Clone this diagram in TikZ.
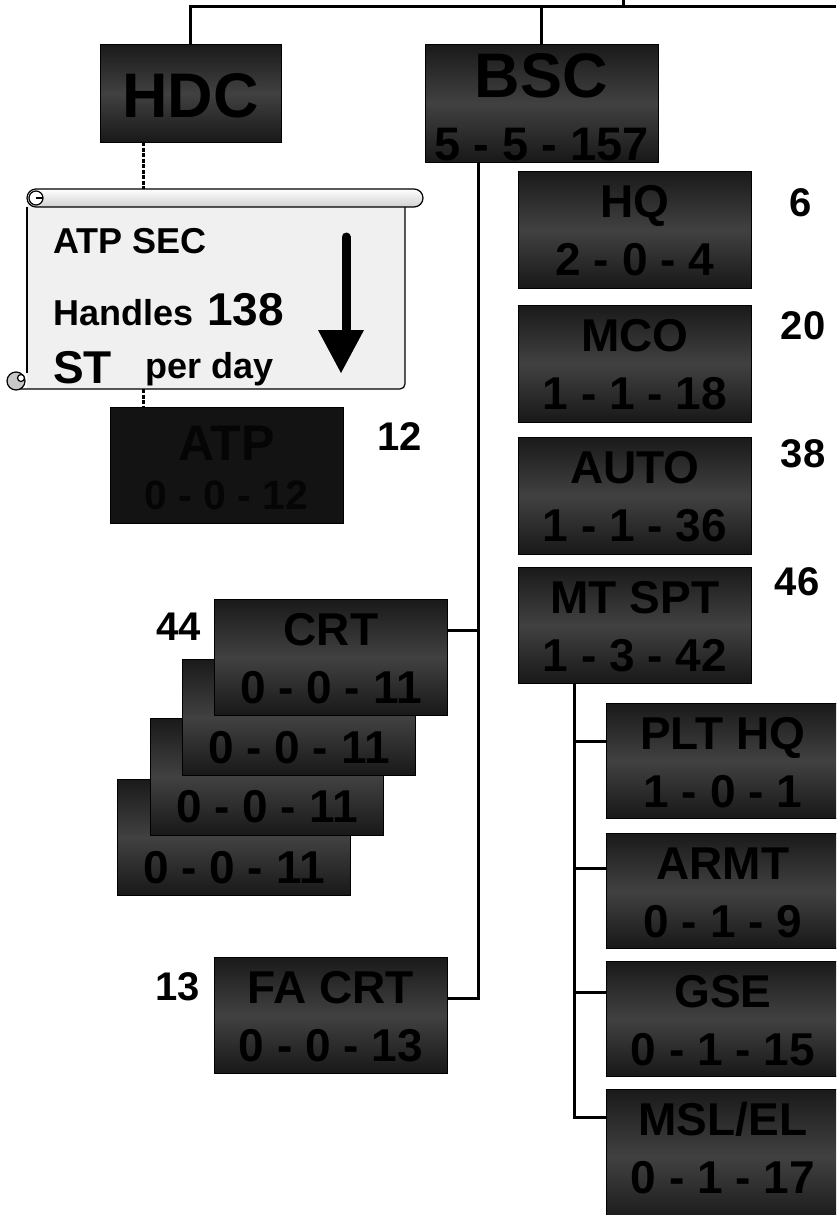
\documentclass[tikz,border=0pt]{standalone}
\usepackage{fontspec}
\setmainfont{Liberation Sans}
\usetikzlibrary{calc}
\definecolor{bxtop}{HTML}{1A1A1A}
\definecolor{bxmid}{HTML}{414141}
\definecolor{bxbot}{HTML}{181818}
\definecolor{atpfill}{HTML}{131313}
\definecolor{atptext}{HTML}{050505}
\definecolor{scrollbg}{HTML}{F0F0F0}
\definecolor{curlgray}{HTML}{C8C8C8}
\newcommand{\fs}[1]{\fontsize{#1}{#1}\selectfont\bfseries}
% name, x, y, height, line1, line2
\newcommand{\orgbox}[6]{%
  \node[ubox,minimum height=#4pt] (#1) at (#2,#3) {};
  \node[utxt,anchor=base] (#1-a) at ([yshift=-46.5pt]#1.north) {#5};
  \node[utxt,anchor=base] (#1-b) at ([yshift=-104.5pt]#1.north) {#6};
}
\begin{document}
\begin{tikzpicture}[x=1pt,y=-1pt,
  ubox/.style={rectangle,anchor=north west,inner sep=0pt,minimum width=233pt,
    draw=black,line width=0.8pt,top color=bxtop,bottom color=bxbot,middle color=bxmid},
  utxt/.style={inner sep=0pt,font=\fs{46},text=black},
  num/.style={inner sep=0pt,font=\fs{40},text=black},
  conn/.style={draw=black,line width=3pt},
  dconn/.style={draw=black,line width=3pt,dash pattern=on 4pt off 1.5pt},
  sline/.style={draw=black,line width=1.2pt},
  stxt/.style={inner sep=0pt,anchor=base west,text=black}]
\useasboundingbox (0,0) rectangle (836,1215);
\clip (0,0) rectangle (836,1215);

% ---------- top level ----------
\node[ubox,minimum width=181pt,minimum height=98pt] (hdc) at (100,44) {};
\node[utxt,font=\fs{63},anchor=base] (hdc-a) at (190.5,117.5) {HDC};
\node[ubox,minimum height=118pt] (bsc) at (425,44) {};
\node[utxt,font=\fs{63},anchor=base] (bsc-a) at (541.5,97.5) {BSC};
\node[utxt,font=\fs{47},anchor=base] (bsc-b) at (541.5,160) {5 - 5 - 157};

\coordinate (topR) at (836,7);
\coordinate (tick) at (623,0);
\draw[conn] (hdc.north) |- (topR);
\draw[conn] (bsc.north) -- (bsc.north |- topR);
\draw[conn] (tick) -- (tick |- topR);

% ---------- right column ----------
\orgbox{hq}{518}{171}{117}{HQ}{2 - 0 - 4}
\orgbox{mco}{518}{305}{117}{MCO}{1 - 1 - 18}
\orgbox{auto}{518}{437}{117}{AUTO}{1 - 1 - 36}
\orgbox{mt}{518}{567}{116}{MT SPT}{1 - 3 - 42}
\node[num] (n6) at (801,203) {6};
\node[num] (n20) at (803,326) {20};
\node[num] (n38) at (803,454) {38};
\node[num] (n46) at (797,582) {46};

\orgbox{plt}{606}{703}{115}{PLT HQ}{1 - 0 - 1}
\orgbox{armt}{606}{833}{115}{ARMT}{0 - 1 - 9}
\orgbox{gse}{606}{961}{115}{GSE}{0 - 1 - 15}
\orgbox{msl}{606}{1089}{135}{MSL/EL}{0 - 1 - 17}

\coordinate (mj) at (574,683);
\coordinate (pltj) at (574,741);
\coordinate (armtj) at (574,868);
\coordinate (gsej) at (574,992);
\coordinate (mslj) at (574,1117);
\draw[conn] (mj) -- (mslj) -- (mslj -| msl.west);
\draw[conn] (pltj) -- (pltj -| plt.west);
\draw[conn] (armtj) -- (armtj -| armt.west);
\draw[conn] (gsej) -- (gsej -| gse.west);

% ---------- left column ----------
\orgbox{crtd}{117}{779}{116}{}{0 - 0 - 11}
\orgbox{crtc}{150}{718}{117}{}{0 - 0 - 11}
\orgbox{crtb}{182}{659}{116}{}{0 - 0 - 11}
\orgbox{crta}{214}{599}{116}{CRT}{0 - 0 - 11}
\node[num] (n44) at (179,627) {44};

\orgbox{fa}{214}{957}{116}{FA CRT}{0 - 0 - 13}
\node[num] (n13) at (178,987) {13};

\coordinate (bj) at (478,162);
\coordinate (crtj) at (478,630);
\coordinate (faj) at (478,998);
\draw[conn] (bj) -- (faj) -- (faj -| fa.east);
\draw[conn] (crtj) -- (crtj -| crta.east);

% ---------- ATP ----------
\node[rectangle,anchor=north west,inner sep=0pt,minimum width=233pt,minimum height=116pt,
  draw=black,line width=0.8pt,fill=atpfill] (atp) at (110,407) {};
\node[utxt,font=\fs{50},text=atptext,anchor=base] (atp-a) at (226.5,460) {ATP};
\node[utxt,font=\fs{41},text=atptext,anchor=base] (atp-b) at (226.5,509) {0 - 0 - 12};
\node[num] (n12) at (400,437) {12};

% ---------- scroll ----------
\coordinate (d1) at (143,142);
\coordinate (d2) at (143,189);
\coordinate (d3) at (143,389);
\coordinate (d4) at (143,407);
\draw[dconn] (d1) -- (d2);
\draw[dconn] (d3) -- (d4);

\fill[scrollbg] (27,198) rectangle (405,389);
\draw[sline] (27,207) -- (27,373);
\draw[sline,rounded corners=5pt] (20,389) -- (405,389) -- (405,207);
\draw[sline,top color=white,bottom color=black!18,rounded corners=9pt] (27,189) rectangle (423,207);
\draw[sline,fill=white] (36,198) circle[radius=7pt];
\draw[sline] (36,198) -- (43,198);
\draw[sline,fill=curlgray] (16,381) circle[radius=9pt];
\draw[sline,fill=white] (21,378) circle[radius=3.5pt];

\node[stxt,font=\fs{36}] (s1) at (53,253) {ATP SEC};
\node[stxt,font=\fs{36}] (s2) at (53,325) {Handles};
\node[stxt,font=\fs{46}] (s3) at (207,325) {138};
\node[stxt,font=\fs{46}] (s4) at (53,383) {ST};
\node[stxt,font=\fs{36}] (s5) at (145,378) {per day};

\draw[line width=9pt,line cap=round] (346,237) -- (346,334);
\fill[black] (318,330) -- (364,330) -- (341,373) -- cycle;
\end{tikzpicture}
\end{document}
